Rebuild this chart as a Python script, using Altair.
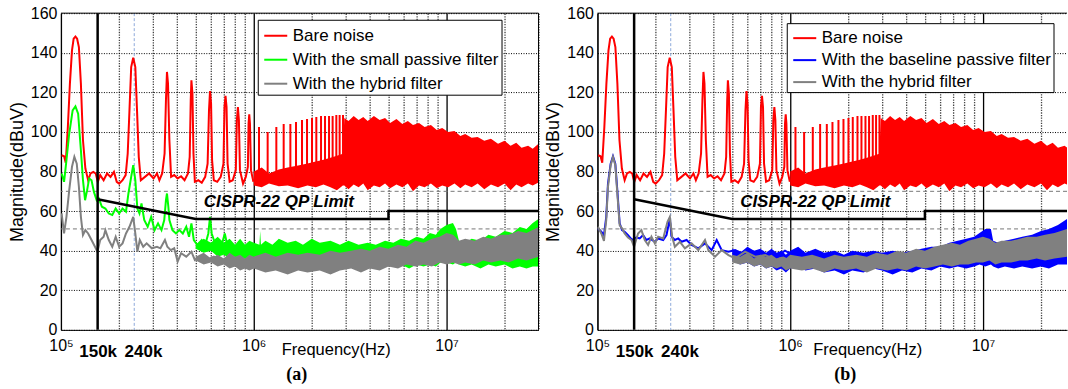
import altair as alt
import pandas as pd

FONT = "Liberation Sans"
SERIF = "Liberation Serif"

# ---------------- Bare noise (same in both panels) ----------------
red_lf_f = [1.008e5, 1.038e5, 1.059e5, 1.086e5, 1.113e5, 1.141e5, 1.164e5, 1.189e5, 1.213e5, 1.239e5,
            1.269e5, 1.301e5, 1.339e5, 1.384e5, 1.424e5, 1.472e5, 1.515e5, 1.553e5, 1.598e5, 1.665e5,
            1.735e5, 1.808e5, 1.884e5, 1.947e5, 2.004e5, 2.087e5, 2.166e5, 2.220e5, 2.267e5, 2.314e5,
            2.371e5, 2.431e5, 2.481e5, 2.533e5, 2.596e5, 2.727e5, 2.865e5, 3.022e5, 3.149e5, 3.241e5,
            3.350e5, 3.448e5, 3.505e5, 3.548e5, 3.592e5, 3.652e5, 3.727e5, 3.868e5, 4.031e5, 4.200e5,
            4.377e5, 4.560e5, 4.655e5, 4.712e5, 4.751e5, 4.810e5, 4.869e5, 4.950e5, 5.158e5, 5.375e5,
            5.601e5, 5.765e5, 5.861e5, 5.934e5, 6.008e5, 6.082e5, 6.209e5, 6.469e5, 6.741e5, 6.966e5,
            7.053e5, 7.140e5, 7.228e5, 7.318e5, 7.499e5, 7.782e5, 8.074e5, 8.175e5, 8.277e5, 8.378e5,
            8.483e5, 8.802e5, 9.097e5, 9.324e5, 9.402e5, 9.480e5, 9.559e5, 9.676e5, 9.958e5]
red_lf_db = [88.2, 87.7, 84.4, 102.5, 124.4, 141.2, 147.1, 148.2, 147.1, 142.9,
             124.4, 95.8, 81.5, 75.6, 79.0, 79.8, 79.0, 74.8, 78.2, 75.6,
             79.0, 77.3, 79.8, 74.8, 73.9, 75.6, 78.2, 89.1, 110.9, 132.8,
             137.5, 132.8, 110.9, 87.4, 75.6, 77.3, 79.0, 76.5, 79.0, 75.6,
             79.0, 89.1, 116.0, 130.3, 124.4, 95.8, 77.3, 78.2, 76.5, 77.6,
             75.6, 79.0, 87.4, 116.0, 126.1, 119.3, 89.1, 74.8, 75.6, 74.3,
             77.3, 84.0, 110.9, 120.7, 114.3, 85.7, 75.6, 74.8, 77.3, 84.0,
             112.6, 118.2, 112.6, 84.0, 74.8, 75.6, 80.7, 105.9, 112.6, 105.9,
             80.7, 73.9, 77.3, 82.4, 104.2, 108.9, 104.2, 80.7, 74.8]
red_spike_f = [1.065e6, 1.181e6, 1.31e6, 1.43e6, 1.549e6, 1.657e6, 1.78e6, 1.89e6, 2.006e6,
               2.112e6, 2.234e6, 2.343e6, 2.458e6, 2.566e6, 2.682e6, 2.79e6, 2.905e6]
red_spike_db = [102.5, 100, 102.5, 104, 104, 105, 106, 106.5, 107,
                107.5, 108, 108, 108, 108, 108.5, 108.5, 108.5]
red_spike_base = [75] * len(red_spike_f)
red_band_f = [1.0e6, 1.1e6, 1.2e6, 1.35e6, 1.5e6, 1.7e6, 1.9e6, 2.1e6, 2.3e6, 2.5e6,
              2.7e6, 2.9e6, 2.95e6, 3.1e6, 3.3e6, 3.5e6, 3.7e6, 3.9e6, 4.2e6, 4.5e6,
              4.8e6, 5.1e6, 5.5e6, 5.9e6, 6.3e6, 6.7e6, 7.2e6, 7.7e6, 8.3e6, 8.9e6,
              9.5e6, 1.02e7, 1.1e7, 1.18e7, 1.25e7, 1.35e7, 1.45e7, 1.57e7, 1.7e7, 1.85e7,
              2.0e7, 2.15e7, 2.3e7, 2.45e7, 2.65e7, 2.8e7, 3.0e7]
red_band_hi = [80, 82, 79, 81, 82, 83, 84, 85, 86, 87,
               88, 89, 107, 105.5, 108, 106, 107.5, 105.5, 108, 106,
               107, 104.5, 106.5, 104, 105.5, 103.5, 104.5, 102.5, 103.5, 101,
               102, 100, 100.5, 98, 99, 97, 97.5, 95.5, 96.5, 94,
               95.5, 93, 94.5, 92, 93, 91.5, 94]
red_band_lo = [73, 72, 74, 72.5, 73, 71.5, 73, 72, 73.5, 72,
               70.5, 73, 73, 71, 73.5, 72, 74, 70.5, 73, 72,
               74, 71.5, 73.5, 72, 74, 70, 73, 72, 74, 71.5,
               73, 72, 74, 71.5, 73.5, 72, 74, 71, 73.5, 72,
               74, 70.5, 73.5, 72, 74, 73, 74.5]

# ---------------- Panel (a): small passive filter ----------------
green_lf_f = [1.008e5, 1.038e5, 1.068e5, 1.104e5, 1.150e5, 1.189e5, 1.228e5, 1.269e5, 1.301e5, 1.334e5,
              1.367e5, 1.401e5, 1.441e5, 1.483e5, 1.533e5, 1.572e5, 1.631e5, 1.700e5, 1.771e5, 1.846e5,
              1.923e5, 2.004e5, 2.087e5, 2.175e5, 2.239e5, 2.314e5, 2.371e5, 2.431e5, 2.491e5, 2.554e5,
              2.617e5, 2.704e5, 2.818e5, 2.937e5, 3.060e5, 3.189e5, 3.323e5, 3.435e5, 3.505e5, 3.548e5,
              3.607e5, 3.652e5, 3.790e5, 3.949e5, 4.115e5, 4.287e5, 4.467e5, 4.617e5, 4.751e5, 4.890e5,
              5.095e5, 5.375e5, 5.601e5, 5.813e5, 5.934e5, 6.055e5, 6.338e5, 6.741e5, 7.079e5, 7.318e5,
              7.782e5, 8.277e5, 8.802e5, 9.363e5, 9.958e5]
green_lf_db = [79, 74.8, 85.7, 99.2, 110.9, 112.9, 109.2, 90.8, 75.6, 65.5,
               70.6, 76.5, 75.6, 69.7, 65.5, 66.4, 62.2, 61.3, 58.8, 58,
               61.3, 58.8, 61.3, 59.7, 68.9, 77.3, 83.2, 75.6, 61.3, 58.8,
               63.9, 55.5, 52.1, 57.1, 50.4, 53.8, 50.4, 55.5, 65.5, 68.9,
               62.2, 55.5, 50.4, 48.7, 50.4, 48.7, 52.1, 47, 53.8, 45.4,
               42.9, 45.4, 42.9, 48.7, 57.1, 48.7, 42.9, 41.2, 48.7, 42,
               42, 41.2, 42.9, 41.2, 42]
green_band_f = [5.0e5, 5.5e5, 6.0e5, 6.5e5, 7.0e5, 7.5e5, 8.0e5, 8.5e5, 9.0e5, 9.5e5,
                1.0e6, 1.07e6, 1.08e6, 1.09e6, 1.15e6, 1.25e6, 1.35e6, 1.5e6, 1.65e6, 1.8e6,
                2.0e6, 2.2e6, 2.5e6, 2.8e6, 3.1e6, 3.5e6, 3.9e6, 4.3e6, 4.8e6, 5.3e6,
                5.8e6, 6.4e6, 7.0e6, 7.6e6, 8.2e6, 8.8e6, 9.3e6, 1.0e7, 1.08e7, 1.12e7,
                1.16e7, 1.25e7, 1.35e7, 1.5e7, 1.65e7, 1.8e7, 2.0e7, 2.2e7, 2.4e7, 2.6e7,
                2.8e7, 3.0e7]
green_band_hi = [43, 46, 44, 47, 44, 46, 43, 46, 43, 45,
                 44, 43, 50, 43, 45, 43, 46, 44, 45, 43,
                 46, 44, 45, 43, 45, 43, 44, 43, 45, 44,
                 46, 45, 47, 46, 49, 48, 51, 53, 54, 51,
                 45, 44, 46, 45, 48, 47, 50, 49, 52, 51,
                 54, 56]
green_band_lo = [41, 39, 40, 37, 38, 36, 37, 35, 36, 34,
                 35, 33, 33, 33, 34, 32, 33, 31, 33, 32,
                 33, 31, 33, 32, 33, 31, 33, 32, 33, 32,
                 33, 31, 33, 32, 33, 32, 34, 34, 33, 34,
                 33, 32, 33, 31, 33, 32, 33, 31, 32, 31,
                 32, 32]
grayA_lf_f = [1.008e5, 1.038e5, 1.068e5, 1.104e5, 1.141e5, 1.174e5, 1.208e5, 1.239e5, 1.269e5, 1.301e5,
              1.339e5, 1.384e5, 1.441e5, 1.502e5, 1.546e5, 1.598e5, 1.665e5, 1.700e5, 1.771e5, 1.846e5,
              1.923e5, 2.004e5, 2.087e5, 2.175e5, 2.267e5, 2.371e5, 2.431e5, 2.491e5, 2.564e5, 2.672e5,
              2.783e5, 2.961e5, 3.149e5, 3.281e5, 3.463e5, 3.564e5, 3.712e5, 3.868e5, 4.031e5, 4.200e5,
              4.467e5, 4.751e5, 4.950e5, 5.266e5, 5.718e5, 6.209e5, 6.741e5, 7.318e5, 7.943e5, 8.624e5,
              9.363e5, 1.017e6]
grayA_lf_db = [58.8, 48.7, 57.1, 70.6, 82.4, 87.4, 84, 72.3, 57.1, 47.9,
               50.4, 48.7, 45.4, 42, 39.5, 45.4, 47, 50.4, 45.4, 42,
               47, 42, 43.7, 48.7, 52.1, 57.1, 48.7, 39.5, 45.4, 42,
               43.7, 41.2, 42, 41.2, 45.4, 42, 40.3, 41.2, 34.5, 38.7,
               37, 39.5, 35.3, 37, 35.3, 37, 35.3, 33.6, 35.3, 34.5,
               33.6, 32.8]
grayA_band_f = [5.0e5, 5.5e5, 6.0e5, 6.5e5, 7.0e5, 7.5e5, 8.0e5, 8.5e5, 9.0e5, 9.5e5,
                1.0e6, 1.15e6, 1.3e6, 1.5e6, 1.7e6, 1.9e6, 2.2e6, 2.5e6, 2.8e6, 3.2e6,
                3.6e6, 4.0e6, 4.5e6, 5.0e6, 5.6e6, 6.2e6, 6.9e6, 7.6e6, 8.4e6, 9.2e6,
                1.0e7, 1.08e7, 1.16e7, 1.25e7, 1.4e7, 1.55e7, 1.7e7, 1.9e7, 2.1e7, 2.35e7,
                2.6e7, 3.0e7]
grayA_band_hi = [37, 39, 36, 38, 36, 39, 37, 38, 36, 38,
                 37, 39, 37, 39, 38, 39, 38, 40, 39, 40,
                 41, 40, 42, 41, 43, 42, 45, 44, 46, 47,
                 49, 48, 45, 46, 45, 47, 46, 48, 48, 50,
                 49, 52]
grayA_band_lo = [35, 33, 34, 32, 33, 31, 32, 30, 31, 30,
                 31, 29, 30, 28, 30, 29, 30, 28, 30, 31,
                 29, 31, 30, 32, 31, 33, 32, 33, 32, 34,
                 33, 34, 33, 34, 33, 35, 34, 35, 34, 36,
                 35, 37]

# ---------------- Panel (b): baseline passive filter ----------------
blue_lf_f = [1.006e5, 1.047e5, 1.081e5, 1.111e5, 1.134e5, 1.171e5, 1.204e5, 1.238e5, 1.268e5, 1.304e5,
             1.341e5, 1.384e5, 1.441e5, 1.488e5, 1.530e5, 1.592e5, 1.657e5, 1.725e5, 1.795e5, 1.868e5,
             1.984e5, 2.065e5, 2.193e5, 2.282e5, 2.375e5, 2.423e5, 2.521e5, 2.625e5, 2.732e5, 2.901e5,
             3.080e5, 3.337e5, 3.614e5, 3.914e5, 4.156e5, 4.414e5, 4.782e5, 5.180e5, 5.610e5, 6.077e5,
             6.853e5, 7.424e5, 8.040e5, 8.710e5, 9.400e5, 1.0e6]
blue_lf_db = [51.3, 49.6, 47.9, 57.1, 73.9, 84, 87.7, 84, 70.6, 53.8,
              50.4, 49.6, 47.9, 46.2, 45.4, 46.7, 46.2, 47.9, 45.4, 46.2,
              44.5, 46.2, 45.4, 47.9, 56.3, 47.1, 45.4, 46.2, 44.5, 45.4,
              42.9, 41.2, 43.7, 40.3, 45.4, 40.3, 39.5, 40.3, 38.7, 40.3,
              38.7, 36.1, 39.5, 37.8, 40.0, 38.5]
blue_band_f = [5.0e5, 5.5e5, 6.0e5, 6.5e5, 7.0e5, 7.5e5, 8.0e5, 8.5e5, 9.0e5, 9.5e5,
               1.0e6, 1.1e6, 1.2e6, 1.35e6, 1.5e6, 1.7e6, 1.9e6, 2.1e6, 2.4e6, 2.7e6,
               3.0e6, 3.4e6, 3.8e6, 4.3e6, 4.8e6, 5.4e6, 6.0e6, 6.7e6, 7.4e6, 8.2e6,
               9.0e6, 9.6e6, 1.03e7, 1.1e7, 1.13e7, 1.2e7, 1.3e7, 1.45e7, 1.6e7, 1.8e7,
               2.0e7, 2.2e7, 2.45e7, 2.73e7]
blue_band_hi = [41, 39, 42, 40, 41, 39, 41, 39, 40, 38,
                40, 42, 39, 41, 39, 40, 38, 40, 39, 40,
                39, 40, 39, 40, 41, 42, 42, 44, 45, 46,
                47, 49, 51, 51, 45, 44, 45, 46, 47, 48,
                50, 51, 53, 56]
blue_band_lo = [35, 33, 34, 32, 33, 31, 32, 30, 31, 29,
                31, 32, 30, 31, 29, 30, 28, 30, 29, 31,
                30, 28, 30, 29, 31, 30, 32, 31, 32, 31,
                32, 33, 32, 33, 32, 31, 32, 31, 32, 31,
                32, 31, 33, 33]
grayB_lf_f = [1.006e5, 1.047e5, 1.081e5, 1.111e5, 1.134e5, 1.171e5, 1.204e5, 1.238e5, 1.268e5, 1.304e5,
              1.341e5, 1.384e5, 1.441e5, 1.501e5, 1.549e5, 1.625e5, 1.691e5, 1.760e5, 1.832e5, 1.906e5,
              1.984e5, 2.065e5, 2.193e5, 2.309e5, 2.375e5, 2.442e5, 2.521e5, 2.679e5, 2.843e5, 3.080e5,
              3.337e5, 3.614e5, 3.762e5, 4.075e5, 4.414e5, 4.782e5, 5.180e5, 5.838e5, 6.582e5, 7.424e5,
              8.371e5, 9.200e5, 1.0e6]
grayB_lf_db = [52.1, 48.7, 45, 55.5, 72.3, 83.2, 87.4, 83.2, 68.9, 52.9,
               51.3, 48.7, 46.7, 45.4, 42, 48.7, 50.4, 45.4, 42.9, 47.1,
               43.7, 47.1, 46.2, 54.6, 57.1, 47.1, 42, 44.5, 41.2, 43.7,
               40.3, 45.4, 40.3, 37, 40.3, 37.8, 36.1, 39.5, 37, 37.8,
               35.3, 36.5, 35]
grayB_band_f = [5.0e5, 5.5e5, 6.0e5, 6.5e5, 7.0e5, 7.5e5, 8.0e5, 8.5e5, 9.0e5, 9.5e5,
                1.0e6, 1.15e6, 1.3e6, 1.5e6, 1.7e6, 1.9e6, 2.2e6, 2.5e6, 2.8e6, 3.2e6,
                3.6e6, 4.0e6, 4.5e6, 5.0e6, 5.6e6, 6.2e6, 6.9e6, 7.6e6, 8.4e6, 9.2e6,
                1.0e7, 1.08e7, 1.16e7, 1.25e7, 1.4e7, 1.55e7, 1.7e7, 1.9e7, 2.1e7, 2.35e7,
                2.73e7]
grayB_band_hi = [38, 37, 39, 36, 38, 37, 38, 36, 37, 36,
                 38, 37, 38, 36, 38, 37, 38, 37, 39, 38,
                 40, 39, 41, 40, 42, 43, 44, 43, 45, 46,
                 47, 46, 44, 45, 45, 46, 47, 47, 48, 49,
                 51]
grayB_band_lo = [34, 33, 34, 32, 33, 31, 32, 31, 32, 30,
                 31, 30, 31, 29, 31, 30, 31, 29, 31, 30,
                 31, 30, 32, 31, 32, 33, 32, 33, 33, 34,
                 34, 35, 33, 34, 34, 35, 35, 36, 35, 36,
                 37]

# ---------------- limits, references, labels ----------------
limit_f = [155000, 500000, 5000000, 5000000, 30000000]
limit_db = [66, 56, 56, 60, 60]
ref_db = [70, 51]
mark150_f = [155000]
mark240_f = [240000]
ann_f = [156000, 268000]
ann_text = ["150k", "240k"]
cispr_f = [550000]
cispr_db = [64.4]
cispr_text = ["CISPR-22 QP Limit"]
x_grid = [100000, 200000, 300000, 400000, 500000, 600000, 700000, 800000, 900000,
          1000000, 2000000, 3000000, 4000000, 5000000, 6000000, 7000000, 8000000, 9000000,
          10000000, 20000000, 30000000]
y_ticks = [0, 20, 40, 60, 80, 100, 120, 140, 160]

names_a = ["Bare noise", "With the small passive filter", "With the hybrid filter"]
colors_a = ["#ff0000", "#00ff00", "#808080"]
names_b = ["Bare noise", "With the baseline passive filter", "With the hybrid filter"]
colors_b = ["#ff0000", "#0000ff", "#808080"]

H = 317
LABEL_EXPR = ("datum.value == 100000 ? '10\u2075' : datum.value == 1000000 ? '10\u2076' : "
              "datum.value == 10000000 ? '10\u2077' : ''")
DECADE = "datum.value == 100000 || datum.value == 1000000 || datum.value == 10000000"


def line_df(f, v, name):
    return pd.DataFrame({"f": f, "v": v, "s": name})


def band_df(f, lo, hi):
    return pd.DataFrame({"f": f, "lo": lo, "hi": hi})


def panel(names, colors, lf2, band2, lfg, bandg, width, xmax, leg_x, leg_y, row_pad, leg_pad,
          sym_off, tag, tag_x, title_x, right_border):
    xs = alt.Scale(type="log", domain=[1e5, xmax], nice=False)
    ys = alt.Scale(domain=[0, 160], nice=False, zero=False)
    vals = [v for v in x_grid if v <= xmax * 1.0001]
    xaxis = alt.Axis(values=vals, labelExpr=LABEL_EXPR, labelFlush=False, labelOverlap=False,
                     title="Frequency(Hz)", titleX=title_x, titleY=20, titleBaseline="middle",
                     titleFontSize=16.5, titleFontWeight="normal", titleColor="black",
                     labelFontSize=16, labelColor="black", labelPadding=8, ticks=False, tickSize=0,
                     grid=True,
                     gridColor={"condition": {"test": DECADE, "value": "#000000"}, "value": "#444444"},
                     gridDash={"condition": {"test": DECADE, "value": [1, 0]}, "value": [1.3, 1.3]},
                     gridWidth=1.3, domain=True, domainColor="black", domainWidth=1)
    yaxis = alt.Axis(values=y_ticks, title="Magnitude(dBuV)", titleFontSize=18,
                     titleFontWeight="normal", titleColor="black", titlePadding=4,
                     labelFontSize=16, labelColor="black", labelPadding=4, ticks=False, tickSize=0,
                     grid=True, gridColor="#000000", gridDash=[1, 1.5], gridWidth=1,
                     domain=True, domainColor="black", domainWidth=1)
    X = alt.X("f:Q", scale=xs, axis=xaxis)
    Y = alt.Y("v:Q", scale=ys, axis=yaxis)
    Ylo = alt.Y("lo:Q", scale=ys, axis=yaxis)
    legend = alt.Legend(orient="none", legendX=leg_x, legendY=leg_y, title=None,
                        symbolType="stroke", symbolSize=530, symbolStrokeWidth=2, symbolOffset=sym_off,
                        labelFontSize=17, labelFont=FONT, labelColor="black", labelLimit=400,
                        labelOffset=4, strokeColor="black", fillColor="white", padding=leg_pad,
                        rowPadding=row_pad, cornerRadius=0)
    C = alt.Color("s:N", scale=alt.Scale(domain=names, range=colors), legend=legend)

    dummy = pd.DataFrame({"z": [0]})
    layers = [
        alt.Chart(pd.DataFrame({"v": ref_db})).mark_rule(color="#777777", strokeDash=[4, 3], strokeWidth=1).encode(y=Y),
        alt.Chart(pd.DataFrame({"f": mark240_f})).mark_rule(color="#8eaadb", strokeDash=[3, 2], strokeWidth=1).encode(x=X),
        # bare noise
        alt.Chart(band_df(red_band_f, red_band_lo, red_band_hi)).mark_area(color=colors[0], opacity=1, clip=True).encode(x=X, y=Ylo, y2="hi:Q"),
        alt.Chart(band_df(red_spike_f, red_spike_base, red_spike_db)).mark_rule(color=colors[0], strokeWidth=2, clip=True).encode(x=X, y=Ylo, y2="hi:Q"),
        alt.Chart(line_df(red_lf_f, red_lf_db, names[0])).mark_line(strokeWidth=2, clip=True).encode(x=X, y=Y, color=C),
        # passive filter
        alt.Chart(band2).mark_area(color=colors[1], opacity=1, clip=True).encode(x=X, y=Ylo, y2="hi:Q"),
        alt.Chart(lf2).mark_line(strokeWidth=2, clip=True).encode(x=X, y=Y, color=C),
        # hybrid filter
        alt.Chart(bandg).mark_area(color=colors[2], opacity=1, clip=True).encode(x=X, y=Ylo, y2="hi:Q"),
        alt.Chart(lfg).mark_line(strokeWidth=2, clip=True).encode(x=X, y=Y, color=C),
        # limit
        alt.Chart(pd.DataFrame({"f": limit_f, "v": limit_db, "i": list(range(len(limit_f)))}))
            .mark_line(color="black", strokeWidth=2.5, clip=True).encode(x=X, y=Y, order="i:Q"),
        alt.Chart(pd.DataFrame({"f": mark150_f})).mark_rule(color="black", strokeWidth=2.5).encode(x=X),
        alt.Chart(pd.DataFrame({"f": cispr_f, "v": cispr_db, "t": cispr_text}))
            .mark_text(align="left", baseline="middle", fontSize=17, fontWeight="bold",
                       fontStyle="italic", font=FONT, color="black").encode(x=X, y=Y, text="t:N"),
        alt.Chart(pd.DataFrame({"f": ann_f, "t": ann_text}))
            .mark_text(align="center", baseline="middle", fontSize=17, fontWeight="bold",
                       color="black").encode(x=X, y=alt.value(H + 22), text="t:N"),
        alt.Chart(pd.DataFrame({"t": [tag]}))
            .mark_text(align="center", baseline="middle", fontSize=18, fontWeight="bold",
                       font=SERIF, color="black").encode(x=alt.value(tag_x), y=alt.value(H + 45), text="t:N"),
        alt.Chart(dummy).mark_rule(color="black", strokeWidth=1).encode(
            x=alt.value(0), x2=alt.value(width), y=alt.value(0)),
    ]
    if right_border:
        layers.append(alt.Chart(dummy).mark_rule(color="black", strokeWidth=1).encode(
            x=alt.value(width), y=alt.value(0), y2=alt.value(H)))
    return alt.layer(*layers).properties(width=width, height=H)


panel_a = panel(names_a, colors_a,
                line_df(green_lf_f, green_lf_db, names_a[1]),
                band_df(green_band_f, green_band_lo, green_band_hi),
                line_df(grayA_lf_f, grayA_lf_db, names_a[2]),
                band_df(grayA_band_f, grayA_band_lo, grayA_band_hi),
                width=478, xmax=3.0e7, leg_x=197, leg_y=6.6, row_pad=3, leg_pad=3, sym_off=2,
                tag="(a)", tag_x=236, title_x=275, right_border=True)

panel_b = panel(names_b, colors_b,
                line_df(blue_lf_f, blue_lf_db, names_b[1]),
                band_df(blue_band_f, blue_band_lo, blue_band_hi),
                line_df(grayB_lf_f, grayB_lf_db, names_b[2]),
                band_df(grayB_band_f, grayB_band_lo, grayB_band_hi),
                width=470, xmax=2.73e7, leg_x=189.5, leg_y=10, row_pad=1, leg_pad=2, sym_off=3,
                tag="(b)", tag_x=248, title_x=270, right_border=False)

chart = (alt.hconcat(panel_a, panel_b, spacing=5)
         .resolve_scale(color="independent", x="independent")
         .properties(padding={"left": 8, "top": 5, "right": 0, "bottom": 0})
         .configure(font=FONT)
         .configure_view(stroke=None))

chart.save("out.html", embed_options={"renderer": "svg", "actions": False})
